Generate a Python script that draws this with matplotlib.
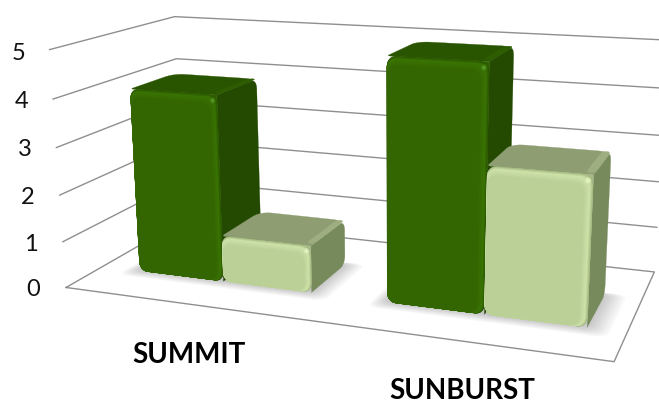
import numpy as np
import matplotlib
matplotlib.use('Agg')
import matplotlib.pyplot as plt
from matplotlib.colors import to_rgb
from mpl_toolkits.mplot3d.art3d import Poly3DCollection

plt.rcParams['font.family'] = ['Lato', 'DejaVu Sans']

# data
categories = ['SUMMIT', 'SUNBURST']
series_dark = [4, 5]
series_light = [1, 3]
z_ticks = [0, 1, 2, 3, 4, 5]

W, H = 659, 403
BAR_W = 0.355
Y0, Y1 = 0.29, 0.66
GRID = '#8f8f8f'

DARK = dict(face='#336500', edge='#2a5600', hi='#3a7403', top='#2a5500', side='#234a00', spot='#5a9a30')
LIGHT = dict(face='#bad097', edge='#a3ba80', hi='#cde1a9', top='#8e9d72', side='#778a5c', spot='#e6f5c8')


def rounded(u0, u1, v0, v1, ru, rv, scale=(1, 1, 1, 1), n=6):
    # outline of a rounded rectangle, scale shrinks single corners
    a = np.linspace(0, np.pi / 2, n)
    us, vs = [], []
    corners = [(u1, v1, -1, -1, 0), (u0, v1, 1, -1, np.pi / 2), (u0, v0, 1, 1, np.pi), (u1, v0, -1, 1, 1.5 * np.pi)]
    for (cu, cv, su, sv, start), s in zip(corners, scale):
        us.extend(cu + su * ru * s + ru * s * np.cos(a + start))
        vs.extend(cv + sv * rv * s + rv * s * np.sin(a + start))
    return np.array(us), np.array(vs)


def add_poly(ax, xs, ys, zs, color, z, alpha=None):
    poly = Poly3DCollection([np.column_stack([xs, ys, zs])], facecolors=color, edgecolors=color if alpha is None else 'none',
                            linewidths=0.2, alpha=alpha, zorder=z)
    ax.add_collection3d(poly, autolim=False)
    poly.set_clip_on(False)


def mix(c1, c2, t):
    return tuple((1 - t) * np.array(to_rgb(c1)) + t * np.array(to_rgb(c2)))


def draw_shadow(ax, x0, x1):
    for k in np.linspace(1, 0, 9):
        u, v = rounded(x0 - 0.05 * k, x1 + 0.08 * k, Y0 - 0.08 * k, Y1 + 0.02 * k, 0.04, 0.05)
        add_poly(ax, u, v, np.zeros_like(u), 'black', 2, alpha=0.028)


def draw_bar(ax, x0, x1, h, st, z):
    ru, rz = 0.032, min(0.2, h / 3)
    # side and top first, the front goes over them
    v, w = rounded(Y0, Y1, 0, h, 0.05, rz, scale=(1, 0, 0, 1))
    add_poly(ax, np.full_like(v, x1), v, w, st['side'], z)
    u, v = rounded(x0, x1, Y0, Y1, 0.045, 0.07, scale=(1, 1, 0.3, 0))
    add_poly(ax, u, v, np.full_like(u, h), st['top'], z + 0.1)
    u, v = rounded(x1 - 0.03, x1, Y0 + 0.03, Y1, 0.012, 0.05)
    add_poly(ax, u, v, np.full_like(u, h), mix(st['top'], st['hi'], 0.25), z + 0.12)
    # the corner behind the rounded front
    u, w = rounded(x0, x1, 0, h, ru, rz, scale=(0, 1, 1, 1))
    add_poly(ax, u, np.full_like(u, Y0), w, mix(st['top'], st['hi'], 0.4), z + 0.15)
    # bevel of the front face
    step = 0.2
    layers = 9
    for k in range(layers):
        t = k / (layers - 1)
        u, w = rounded(x0 + 0.001 * t, x1 - 0.010 * t, 0, h - 0.05 * t, ru, rz)
        add_poly(ax, u, np.full_like(u, Y0), w, mix(st['edge'], st['hi'], t), z + 0.2 + step * t / 4)
    for k in range(layers):
        t = k / (layers - 1)
        u, w = rounded(x0 + 0.001 + 0.002 * t, x1 - 0.010 - 0.020 * t, 0.008 * t, h - 0.05 - min(0.14, h / 6) * t, ru, rz)
        add_poly(ax, u, np.full_like(u, Y0), w, mix(st['hi'], st['face'], t), z + 0.3 + step * t / 4)
    # small shine at the top right corner
    for k in range(4):
        t = k / 3
        rad = 0.011 * (1 - 0.7 * t)
        cx, cz = x1 - 0.018, h - 0.12
        u, w = rounded(cx - rad, cx + rad, cz - rad * 6, cz + rad * 6, rad, rad * 6)
        add_poly(ax, u, np.full_like(u, Y0), w, mix(st['hi'], st['spot'], t), z + 0.5 + 0.01 * k)


fig = plt.figure(figsize=(W / 100, H / 100), dpi=100)
ax = fig.add_subplot(projection='3d', computed_zorder=False)
ax.set_xlim(0, 2)
ax.set_ylim(0, 1)
ax.set_zlim(0, 5)
ax.view_init(14.4712, -69.3739, 0.3408)
ax.set_proj_type('persp', focal_length=0.5752)
ax.set_box_aspect((5.2523, 2.3475, 2.3104), zoom=1.5669)
ax.set_position([0.0434, 0.077, 1, 1])
ax.set_axis_off()

# gridlines on the left and back walls, outline of the floor
for z in z_ticks[1:]:
    ax.plot([0, 0, 2], [0, 1, 1], [z, z, z], color=GRID, lw=1.0, zorder=1, clip_on=False)
ax.plot([0, 2, 2, 0, 0], [0, 0, 1, 1, 0], [0, 0, 0, 0, 0], color=GRID, lw=1.0, zorder=1, clip_on=False)

centers = [0.51, 1.51]
for c in centers:
    draw_shadow(ax, c - BAR_W, c + BAR_W)
order = 3
for c, d, l in zip(centers, series_dark, series_light):
    draw_bar(ax, c - BAR_W, c, d, DARK, order)
    draw_bar(ax, c, c + BAR_W, l, LIGHT, order + 1)
    order += 2

# labels sit outside the projected box
tick_px = [(33, 290), (31, 245), (28, 197), (25, 149), (22, 101), (19, 53)]
for t, (px, py) in zip(z_ticks, tick_px):
    fig.text(px / W, 1 - py / H, str(t), ha='center', va='center', fontsize=17, color='#111111')
label_px = [(189, 355), (462, 391)]
for name, (px, py) in zip(categories, label_px):
    fig.text(px / W, 1 - py / H, name, ha='center', va='center', fontsize=20, fontweight='bold', color='black')

fig.savefig('out.png', dpi=100)
